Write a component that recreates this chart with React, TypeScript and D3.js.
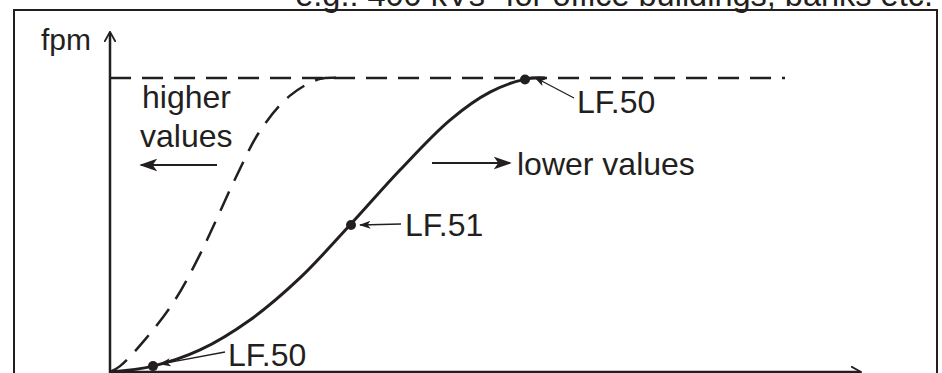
import React from "react";
import * as d3 from "d3";

// Solid curve (x units from origin, y in % of max)
const solidX = [0, 43, 90, 140, 190, 240, 290, 340, 380, 417, 435];
const solidY = [0, 2, 7.5, 17.7, 32, 50, 68.7, 85.7, 95.2, 99.7, 100];
// Dashed curve ("higher values")
const dashX = [0, 10, 35, 65, 90, 127, 150, 180, 210, 230];
const dashY = [0, 2, 11, 24.5, 40, 67, 82, 94, 99.7, 100];
// Marked points
const pointLabels = ["LF.50", "LF.51", "LF.50"];
const pointX = [43, 241, 415];
const pointY = [2, 50, 99.5];
const maxLineEnd = 675;
const topNote = "e.g.: 400 kVs\u2033 for office buildings, banks etc.";

const W = 942;
const H = 373;
const ink = "#231f20";
const font = "'Liberation Sans', Arial, Helvetica, sans-serif";
const FS = 32;

export default function App() {
  const x = d3.scaleLinear().domain([0, 750]).range([110, 860]);
  const y = d3.scaleLinear().domain([0, 100]).range([372, 78]);
  const gen = d3
    .line<[number, number]>()
    .x((d) => x(d[0]))
    .y((d) => y(d[1]))
    .curve(d3.curveCatmullRom.alpha(0.5));
  const solidPath = gen(solidX.map((v, i) => [v, solidY[i]] as [number, number]));
  const dashPath = gen(dashX.map((v, i) => [v, dashY[i]] as [number, number]));

  const labelPos = [
    { tx: 228, ty: 366, ax1: 225, ay1: 352, ax2: 160 },
    { tx: 405, ty: 236, ax1: 401, ay1: 224, ax2: 360 },
    { tx: 577, ty: 113, ax1: 574, ay1: 98, ax2: 535 },
  ];

  return (
    <svg
      width={W}
      height={H}
      style={{ position: "absolute", left: 0, top: 0, background: "#fff" }}
      fontFamily={font}
    >
      <defs>
        <marker id="ahs" viewBox="0 0 10 10" refX="9" refY="5" markerWidth="9" markerHeight="9" orient="auto" markerUnits="strokeWidth">
          <path d="M0,1.5 L10,5 L0,8.5 L2.5,5 Z" fill={ink} />
        </marker>
        <marker id="axh" viewBox="0 0 10 10" refX="8" refY="5" markerWidth="4.5" markerHeight="5" orient="auto" markerUnits="strokeWidth">
          <path d="M0,0 L9,5 L0,10" fill="none" stroke={ink} strokeWidth={1.6} />
        </marker>
      </defs>
      <rect width={W} height={H} fill="#fff" />
      <text x={933} y={6} textAnchor="end" fontSize={32.5} fill={ink}>{topNote}</text>
      <rect x={14} y={10} width={923} height={420} fill="none" stroke={ink} strokeWidth={2} />

      {/* axes */}
      <line x1={x(0)} y1={y(0) + 2} x2={x(0)} y2={33} stroke={ink} strokeWidth={2.5} markerEnd="url(#axh)" />
      <line x1={x(0)} y1={y(0)} x2={x(750)} y2={y(0)} stroke={ink} strokeWidth={2.5} markerEnd="url(#axh)" />
      <text x={41} y={50} fontSize={30} fill={ink}>fpm</text>

      {/* max dashed line */}
      <line x1={x(0)} y1={y(100)} x2={x(maxLineEnd)} y2={y(100)} stroke={ink} strokeWidth={2.5} strokeDasharray="21 11" />

      <path d={dashPath || ""} fill="none" stroke={ink} strokeWidth={2.5} strokeDasharray="21 12" />
      <path d={solidPath || ""} fill="none" stroke={ink} strokeWidth={3} />

      {pointX.map((px, i) => (
        <g key={i}>
          <circle cx={x(px)} cy={y(pointY[i])} r={5} fill={ink} />
          <line x1={labelPos[i].ax1} y1={labelPos[i].ay1} x2={labelPos[i].ax2} y2={y(pointY[i]) - (i === 1 ? 0 : 2)} stroke={ink} strokeWidth={1.3} markerEnd="url(#ahs)" />
          <text x={labelPos[i].tx} y={labelPos[i].ty} fontSize={FS} fill={ink}>{pointLabels[i]}</text>
        </g>
      ))}

      <text x={142} y={108} fontSize={FS} fill={ink}>higher</text>
      <text x={140} y={147} fontSize={FS} fill={ink}>values</text>
      <line x1={217} y1={165} x2={141} y2={165} stroke={ink} strokeWidth={2} markerEnd="url(#ahs)" />

      <line x1={432} y1={163} x2={510} y2={163} stroke={ink} strokeWidth={2} markerEnd="url(#ahs)" />
      <text x={517} y={175} fontSize={FS} fill={ink}>lower values</text>
    </svg>
  );
}
